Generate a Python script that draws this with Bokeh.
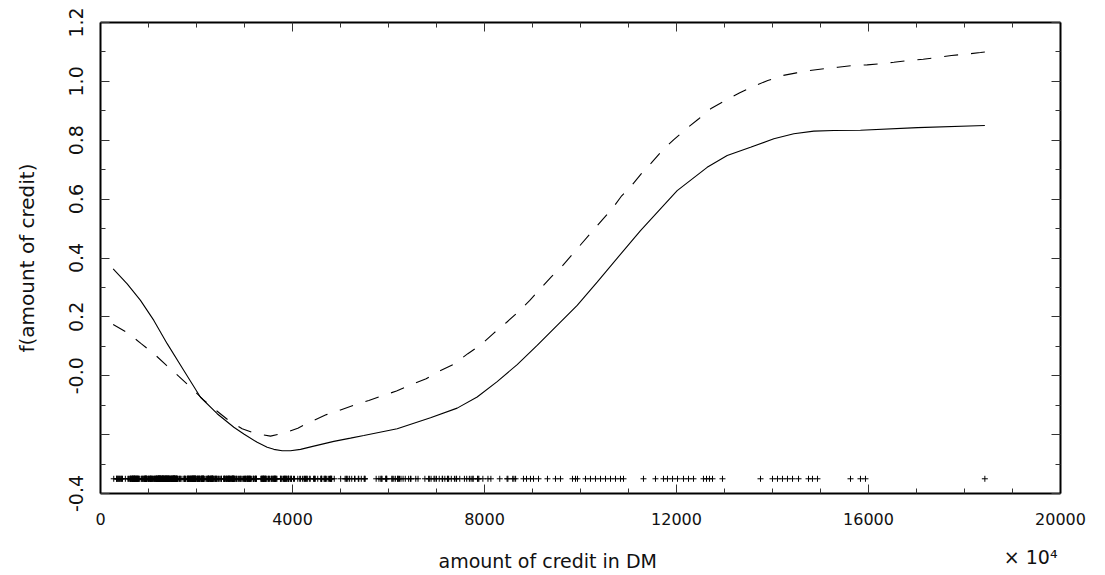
from bokeh.plotting import figure
from bokeh.models import LinearAxis, FixedTicker, Range1d, Title
from bokeh.embed import file_html
from bokeh.resources import INLINE

# ---- data ----
credit_solid = [264, 556, 833, 1111, 1389, 1736, 2083, 2431, 2778, 2986, 3264, 3473, 3611,
                3785, 3958, 4167, 4444, 4861, 5208, 5486, 6181, 6875, 7431, 7847, 8264, 8681,
                9097, 9514, 9931, 10347, 10902, 11250, 12014, 12639, 13056, 13542, 14028,
                14444, 14861, 15278, 15833, 17021, 18424]
f_solid = [0.363, 0.312, 0.256, 0.188, 0.109, 0.018, -0.073, -0.129, -0.175, -0.198, -0.226,
           -0.243, -0.250, -0.255, -0.255, -0.250, -0.239, -0.223, -0.212, -0.203, -0.180,
           -0.143, -0.110, -0.072, -0.020, 0.038, 0.103, 0.171, 0.239, 0.318, 0.426, 0.493,
           0.629, 0.708, 0.748, 0.776, 0.805, 0.822, 0.831, 0.833, 0.834, 0.843, 0.850]

credit_dashed = [264, 590, 847, 1132, 1375, 1632, 1889, 2139, 2396, 2674, 2951, 3250, 3542,
                 3819, 4111, 4410, 4708, 5000, 5313, 5590, 5889, 6167, 6479, 6785, 7063, 7347,
                 7653, 7917, 8194, 8458, 8715, 8944, 9181, 9396, 9632, 9827, 10472, 10660,
                 10847, 11056, 11264, 11472, 11701, 11944, 12202, 12465, 12729, 13035, 13319,
                 13610, 13902, 14215, 14500, 14777, 15083, 15361, 15673, 15972, 16250, 16528,
                 16840, 17139, 17417, 17729, 18021, 18333, 18424]
f_dashed = [0.174, 0.143, 0.109, 0.072, 0.035, -0.002, -0.041, -0.081, -0.116, -0.152, -0.180,
            -0.197, -0.205, -0.195, -0.178, -0.154, -0.132, -0.116, -0.098, -0.084, -0.067,
            -0.052, -0.030, -0.010, 0.016, 0.038, 0.075, 0.104, 0.145, 0.181, 0.219, 0.256,
            0.299, 0.337, 0.375, 0.412, 0.533, 0.567, 0.609, 0.644, 0.686, 0.722, 0.765, 0.802,
            0.839, 0.873, 0.909, 0.937, 0.961, 0.984, 1.003, 1.020, 1.029, 1.037, 1.043, 1.048,
            1.054, 1.056, 1.060, 1.065, 1.071, 1.075, 1.081, 1.088, 1.092, 1.098, 1.100]

rug_dense = [1169, 5951, 2096, 7882, 4870, 2835, 6948, 3059, 5234, 1295, 4308, 1567, 1199, 1403,
             1282, 2424, 8072, 3430, 2134, 2647, 2241, 1804, 2069, 1374, 426, 409, 2415, 6836,
             1913, 4020, 5866, 1264, 1474, 4746, 6110, 2100, 1225, 458, 2333, 1158, 6204, 6187,
             6143, 1393, 2299, 1352, 7228, 2073, 5965, 1262, 3378, 2225, 783, 6468, 1961, 6229,
             1391, 1537, 1953, 3181, 5190, 2171, 1007, 1819, 2394, 8133, 730, 1164, 5954, 1977,
             1526, 3965, 4771, 3832, 5943, 1213, 1568, 1755, 2315, 1412, 2249, 1108, 618, 1409,
             797, 3617, 1318, 2012, 2622, 2337, 7057, 1469, 2323, 932, 1919, 2445, 6458, 6078,
             7721, 1410, 1449, 392, 6260, 7855, 1680, 3578, 7174, 2132, 4281, 2366, 1835, 3868,
             1768, 781, 1924, 2121, 701, 639, 1860, 3499, 8487, 6887, 2708, 1984, 1240, 8613,
             766, 2728, 1881, 709, 4795, 3416, 2462, 2288, 3566, 860, 682, 5371, 1582, 1346,
             5848, 7758, 6967, 1288, 339, 3512, 1898, 2872, 1055, 7308, 909, 2978, 1131, 1577,
             3972, 1935, 950, 763, 2064, 1414, 3414, 7485, 2577, 338, 1963, 571, 4455, 1647,
             3777, 884, 1360, 5129, 1175, 674, 3244, 4591, 3844, 3915, 2108, 3031, 1501, 1382,
             951, 2760, 4297, 936, 1168, 5117, 902, 1495, 6568, 1413, 3074, 3835, 5293, 1908,
             3342, 3104, 3913, 3021, 1364, 625, 1200, 707, 4657, 2613, 7865, 1478, 3149, 4210,
             2507, 2141, 866, 1544, 1823, 2767, 1291, 2522, 915, 1595, 4605, 1185, 3447, 1258,
             717, 1204, 1925, 433, 666, 2251, 2150, 4151, 2030, 7418, 2684, 2149, 3812, 1154,
             1657, 1603, 5302, 2748, 1231, 802, 6304, 1533, 999, 2662, 1402, 3060, 2697, 2404,
             4611, 1901, 3368, 1574, 1445, 1520, 3878, 4788, 7582, 1092, 1024, 1076, 6419, 4796,
             7629, 4675, 1287, 2515, 2745, 672, 3804, 1344, 1038, 1543, 4811, 727, 1237, 276,
             5381, 5511, 3749, 685, 1494, 2746, 708, 4351, 3643, 4249, 1938, 2910, 2659, 1028,
             3398, 5801, 1525, 4473, 1068, 6615, 1864, 7408, 4110, 3384, 2101, 1275, 4169, 1521,
             5743, 3599, 3213, 4439, 3949, 1459, 882, 3758, 1743, 1136, 1236, 959, 3229, 6199,
             1246, 2331, 4463, 776, 2406, 1239, 3399, 2247, 1766, 2473, 1542, 3850, 3650, 3446,
             3001, 3079, 6070, 2146, 7685, 2320, 846, 362, 2212, 1283, 1330, 4272, 2238, 1126,
             7374, 2326, 1820, 983, 3249, 1957, 2578, 2348, 1223, 1516, 1473, 1887, 8648, 2899,
             2039, 2197, 1053, 3235, 939, 1967, 7253, 2292, 1597, 1381, 5842, 2579, 8471, 2782,
             1042, 3186, 2028, 958, 1591, 2762, 2779, 2743, 1149, 1313, 1190, 3448, 1872, 2058,
             2136, 1484, 660, 3394, 609, 1884, 1620, 2629, 719, 5096, 1244, 1842, 2576, 1424,
             1512, 518, 2759, 2670, 4817, 2679, 3905, 3386, 343, 4594, 3620, 1721, 3017, 754,
             1950, 2924, 1659, 7238, 2764, 4679, 3092, 448, 654, 1238, 1245, 3114, 2569, 5152,
             1037, 3573, 1201, 3622, 960, 1163, 1209, 3077, 3757, 1418, 3518, 1934, 8318, 368,
             2122, 2996, 1585, 1301, 1323, 3123, 5493, 1216, 1207, 1309, 2360, 6850, 8588, 759,
             4686, 2687, 585, 2255, 1361, 7127, 1203, 700, 5507, 3190, 7119, 3488, 1113, 7966,
             1532, 1503, 2302, 662, 2273, 2631, 1311, 3105, 2319, 3612, 7763, 3049, 1534, 2032,
             6350, 2864, 1255, 1333, 2022, 1552, 626, 996, 1750, 6999, 1995, 1331, 2278, 5003,
             3552, 1928, 2964, 1546, 683, 4712, 1553, 1372, 3979, 6758, 3234, 5433, 806, 1082,
             2788, 2930, 1927, 2820, 937, 1056, 3124, 1388, 2384, 2133, 2799, 1289, 1217, 2246,
             385, 1965, 1572, 2718, 1358, 931, 1442, 4241, 2775, 3863, 2329, 918, 1837, 3349,
             2828, 4526, 2671, 2051, 1300, 741, 3357, 3632, 1808, 3676, 3441, 640, 3652, 1530,
             3914, 1858, 2600, 1979, 2116, 1437, 4042, 3660, 1444, 1980, 1355, 1376, 1493, 4370,
             750, 1308]
rug_sparse = [8812, 8875, 8958, 9021, 9125, 9312, 9479, 9583, 9833, 9896, 9937, 10104, 10208,
              10312, 10417, 10521, 10625, 10729, 10833, 10896, 11312, 11562, 11729, 11812,
              11917, 12021, 12146, 12250, 12354, 12562, 12625, 12687, 12750, 12958, 13750,
              14000, 14104, 14208, 14312, 14417, 14542, 14750, 14833, 14937, 15625, 15833,
              15937, 18424]
rug_amounts = rug_dense + rug_sparse
rug_level = -0.35

x_major = [0, 4000, 8000, 12000, 16000, 20000]
x_major_labels = ["0", "4000", "8000", "12000", "16000", "20000"]
x_minor = [1000, 2000, 3000, 5000, 6000, 7000, 9000, 10000, 11000, 13000, 14000, 15000,
           17000, 18000, 19000]
y_major = [-0.4, -0.2, 0.0, 0.2, 0.4, 0.6, 0.8, 1.0, 1.2]
y_major_labels = ["-0.4", "", "-0.0", "0.2", "0.4", "0.6", "0.8", "1.0", "1.2"]
y_minor = [-0.3, -0.1, 0.1, 0.3, 0.5, 0.7, 0.9, 1.1]

x_title = "amount of credit in DM"
y_title = "f(amount of credit)"
scale_note = "\u00d7 10\u2074"

FONT = "DejaVu Sans"
INK = "#111111"

p = figure(width=1105, height=575, output_backend="svg", toolbar_location=None,
           x_range=Range1d(0, 20000), y_range=Range1d(-0.4, 1.2),
           x_axis_location=None, y_axis_location=None,
           min_border_left=100, min_border_right=45, min_border_top=22, min_border_bottom=82)
p.outline_line_color = None
p.xgrid.visible = False
p.ygrid.visible = False
p.background_fill_color = "white"
p.border_fill_color = "white"


def style_axis(ax):
    ax.axis_line_width = 2
    ax.axis_line_color = "black"
    ax.major_tick_in = 9
    ax.major_tick_out = 0
    ax.minor_tick_in = 5
    ax.minor_tick_out = 0
    ax.major_tick_line_color = "#333333"
    ax.minor_tick_line_color = "#333333"
    ax.major_tick_line_width = 1
    ax.minor_tick_line_width = 1
    ax.major_label_text_font = FONT
    ax.major_label_text_color = INK
    ax.axis_label_text_font = FONT
    ax.axis_label_text_font_style = "normal"
    ax.axis_label_text_color = INK


xticker = FixedTicker(ticks=x_major, minor_ticks=x_minor)
yticker = FixedTicker(ticks=y_major, minor_ticks=y_minor)

bottom = LinearAxis(ticker=xticker)
style_axis(bottom)
bottom.major_label_overrides = dict(zip(x_major, x_major_labels))
bottom.major_label_text_font_size = "16px"
bottom.major_label_standoff = 19
p.add_layout(bottom, "below")

top = LinearAxis(ticker=xticker)
style_axis(top)
top.major_label_overrides = {t: "" for t in x_major}
top.major_label_standoff = 0
p.add_layout(top, "above")

left = LinearAxis(ticker=yticker)
style_axis(left)
left.major_label_overrides = dict(zip(y_major, y_major_labels))
left.major_label_orientation = "vertical"
left.major_label_text_font_size = "19px"
left.major_label_standoff = 18
left.axis_label = y_title
left.axis_label_text_font_size = "20px"
left.axis_label_standoff = 27
p.add_layout(left, "left")

right = LinearAxis(ticker=yticker)
style_axis(right)
right.major_label_overrides = {t: "" for t in y_major}
right.major_label_standoff = 0
p.add_layout(right, "right")

# curves
p.line(credit_solid, f_solid, line_color="black", line_width=1.1)
p.line(credit_dashed, f_dashed, line_color="black", line_width=1.1, line_dash="14 13")

# rug
p.scatter(rug_amounts, [rug_level] * len(rug_amounts), marker="cross", size=6,
          line_color="black", line_width=1)

# x title and scale note below the bottom axis, on one line
p.add_layout(Title(text=x_title, align="left", offset=338, standoff=-88,
                   vertical_align="bottom",
                   text_font=FONT, text_font_size="19px", text_font_style="normal",
                   text_color=INK), "below")
p.add_layout(Title(text=scale_note, align="right", offset=3, standoff=-80,
                   vertical_align="bottom",
                   text_font=FONT, text_font_size="19px", text_font_style="normal",
                   text_color=INK), "below")

open("out.html", "w").write(file_html(p, INLINE))
